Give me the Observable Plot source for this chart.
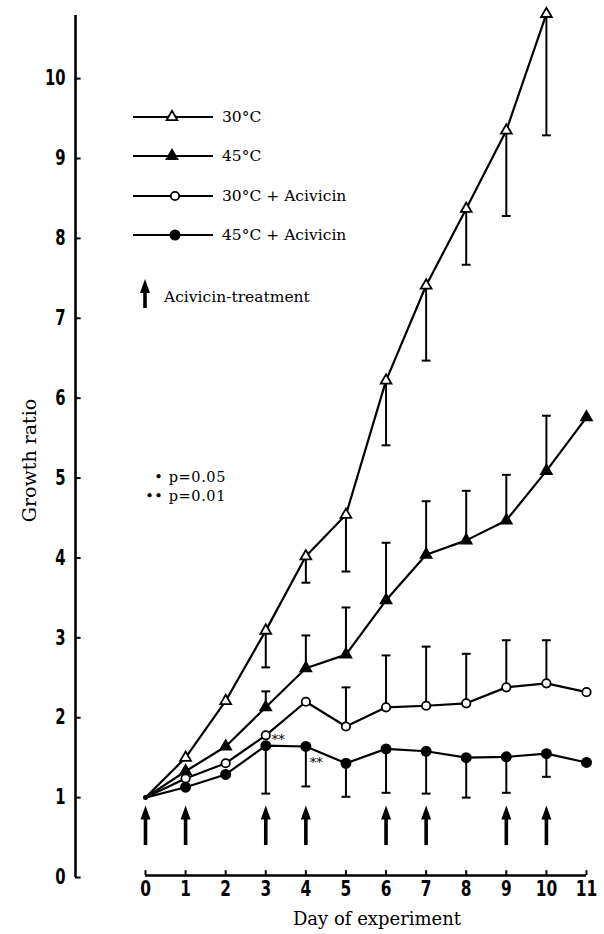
<!DOCTYPE html>
<html>
<head>
<meta charset="utf-8">
<script src="https://cdn.jsdelivr.net/npm/d3@7"></script>
<script src="https://cdn.jsdelivr.net/npm/@observablehq/plot@0.6"></script>
<style>
  body { margin: 0; background: #fff; }
  #chart { width: 604px; height: 934px; }
</style>
</head>
<body>
<div id="chart"></div>
<script>
// Days of the experiment and the y tick values
const days = [0, 1, 2, 3, 4, 5, 6, 7, 8, 9, 10, 11];
const yTicks = [0, 1, 2, 3, 4, 5, 6, 7, 8, 9, 10];
const treatmentDays = [0, 1, 3, 4, 6, 7, 9, 10];

const seriesNames = ["30°C", "45°C", "30°C + Acivicin", "45°C + Acivicin"];

// Mean growth ratio per day (null = not measured)
const growth30 = [1.0, 1.50, 2.21, 3.09, 4.02, 4.54, 6.22, 7.41, 8.37, 9.35, 10.81, null];
const growth45 = [1.0, 1.33, 1.64, 2.13, 2.62, 2.79, 3.47, 4.04, 4.22, 4.47, 5.09, 5.76];
const growth30A = [1.0, 1.24, 1.43, 1.78, 2.20, 1.89, 2.13, 2.15, 2.18, 2.38, 2.43, 2.32];
const growth45A = [1.0, 1.13, 1.29, 1.65, 1.64, 1.43, 1.61, 1.58, 1.50, 1.51, 1.55, 1.44];

// End of the one-sided error bar per day (null = no bar)
const err30 = [null, null, null, 2.63, 3.69, 3.83, 5.41, 6.47, 7.67, 8.28, 9.29, null];
const err45 = [null, null, null, 2.33, 3.03, 3.38, 4.19, 4.71, 4.84, 5.04, 5.78, null];
const err30A = [null, null, null, null, null, 2.38, 2.78, 2.89, 2.80, 2.97, 2.97, null];
const err45A = [null, null, null, 1.05, 1.14, 1.01, 1.06, 1.05, 1.00, 1.06, 1.26, null];

// Significance marks: [series index, day, label]
const significance = [[2, 3, "**"], [3, 4, "**"]];

const seriesValues = [growth30, growth45, growth30A, growth45A];
const seriesErrors = [err30, err45, err30A, err45A];
const seriesStyle = [
  {symbol: "triangle", fill: "white", r: 4},
  {symbol: "triangle", fill: "black", r: 4},
  {symbol: "circle", fill: "white", r: 4.2},
  {symbol: "circle", fill: "black", r: 4.6}
];

const rows = [];
seriesNames.forEach((name, i) => {
  days.forEach((d, j) => {
    const v = seriesValues[i][j];
    if (v != null) rows.push({series: name, idx: i, day: d, value: v, err: seriesErrors[i][j]});
  });
});
const errRows = rows.filter(r => r.err != null);
const sigRows = significance.map(([i, d, label]) => ({
  idx: i, day: d, label, value: seriesValues[i][days.indexOf(d)]
}));

const xMin = -1.746, xMax = 11.1, yMax = 10.79;
const tickFont = "'DejaVu Sans Condensed', 'DejaVu Sans', sans-serif";
const serif = "'DejaVu Serif', 'Liberation Serif', serif";

// Narrow filled arrowhead, tip pointing up
const arrowHead = {
  draw(ctx, size) {
    const r = Math.sqrt(size / Math.PI);
    ctx.moveTo(0, -1.8 * r);
    ctx.lineTo(r, 1.0 * r);
    ctx.lineTo(-r, 1.0 * r);
    ctx.closePath();
  }
};

const markerMarks = seriesStyle.map((s, i) =>
  Plot.dot(rows.filter(r => r.idx === i && r.day > 0), {
    x: "day", y: "value", symbol: s.symbol, r: s.r,
    fill: s.fill, stroke: "black", strokeWidth: 1.8
  })
);

// Asterisks sit right of the open circle, or right of the bar below the filled circle
const sigOffsets = {2: [6, 5], 3: [4, 16]};
const sigMarks = sigRows.map(r =>
  Plot.text([r], {x: "day", y: "value", text: "label",
    dx: sigOffsets[r.idx][0], dy: sigOffsets[r.idx][1],
    textAnchor: "start", fill: "black", fontSize: 13, fontFamily: serif, letterSpacing: 1.5})
);

const plot = Plot.plot({
  width: 604,
  height: 934,
  marginLeft: 75,
  marginRight: 14,
  marginTop: 15,
  marginBottom: 57,
  style: {fontFamily: serif, background: "white", color: "black"},
  x: {domain: [xMin, xMax]},
  y: {domain: [0, yMax]},
  marks: [
    // y axis: line, inward ticks, bold labels
    Plot.ruleX([xMin], {y1: 0, y2: yMax, strokeWidth: 2.6}),
    Plot.ruleY(yTicks, {y: d => d, x1: xMin, x2: xMin + 0.14, strokeWidth: 2}),
    Plot.axisY({ticks: yTicks, tickSize: 0, tickPadding: 10, fontSize: 21,
      fontWeight: "bold", fontFamily: tickFont, label: null}),
    // x axis: line from day 0 to 11, upward ticks, bold labels
    Plot.ruleY([0], {x1: 0, x2: 11, strokeWidth: 2.6, dy: -2}),
    Plot.ruleX(days, {x: d => d, y1: 0, y2: 0.06, dy: -2, strokeWidth: 2}),
    Plot.axisX({ticks: days, tickSize: 0, tickPadding: 3, fontSize: 22,
      fontWeight: "bold", fontFamily: tickFont, label: null}),
    // axis titles
    Plot.text(["Day of experiment"], {frameAnchor: "bottom", dx: 44, dy: 47,
      fontSize: 18, fontFamily: serif}),
    Plot.text(["Growth ratio"], {frameAnchor: "left", textAnchor: "middle", rotate: -90,
      dx: -46, dy: 14, fontSize: 19, fontFamily: serif}),
    // error bars with caps
    Plot.ruleX(errRows, {x: "day", y1: "value", y2: "err", strokeWidth: 2}),
    Plot.link(errRows, {x1: d => d.day - 0.11, x2: d => d.day + 0.11, y1: "err", y2: "err", strokeWidth: 2}),
    // series lines
    Plot.line(rows, {x: "day", y: "value", z: "series", stroke: "black", strokeWidth: 2.2}),
    Plot.dot(rows.filter(r => r.day === 0 && r.idx === 0), {x: "day", y: "value", r: 2.5, fill: "black"}),
    ...markerMarks,
    // significance asterisks
    ...sigMarks,
    // acivicin treatment arrows
    Plot.ruleX(treatmentDays, {x: d => d, y1: 0.40, y2: 0.76, strokeWidth: 3.6}),
    Plot.dot(treatmentDays, {x: d => d, y: 0.79, symbol: arrowHead, r: 5, fill: "black"})
  ]
});

// Legend drawn into the same SVG
const svg = d3.select(plot);
const leg = svg.append("g").attr("font-family", serif).attr("fill", "black")
  .attr("text-anchor", "start");
const legendY = [117, 156, 196, 235];
seriesNames.forEach((name, i) => {
  const y = legendY[i];
  const s = seriesStyle[i];
  leg.append("line").attr("x1", 133).attr("x2", 213).attr("y1", y).attr("y2", y)
    .attr("stroke", "black").attr("stroke-width", 2);
  const sym = s.symbol === "triangle" ? d3.symbolTriangle : d3.symbolCircle;
  leg.append("path")
    .attr("d", d3.symbol(sym, s.r * s.r * Math.PI)())
    .attr("transform", `translate(${s.symbol === "triangle" ? 172 : 175},${y})`)
    .attr("fill", s.fill).attr("stroke", "black").attr("stroke-width", 1.8);
  leg.append("text").attr("x", 222).attr("y", y).attr("dy", "0.35em")
    .attr("font-size", 15.5).text(name);
});
// treatment arrow key
leg.append("line").attr("x1", 145).attr("x2", 145).attr("y1", 308).attr("y2", 289)
  .attr("stroke", "black").attr("stroke-width", 3.6);
leg.append("path")
  .attr("d", d3.symbol(arrowHead, 25 * Math.PI)())
  .attr("transform", "translate(145,288)").attr("fill", "black");
leg.append("text").attr("x", 164).attr("y", 297).attr("dy", "0.35em")
  .attr("font-size", 15.5).text("Acivicin-treatment");
// significance key
leg.append("text").attr("x", 226).attr("y", 477).attr("dy", "0.35em")
  .attr("text-anchor", "end").attr("font-size", 14.5).attr("letter-spacing", 0.6).text("• p=0.05");
leg.append("text").attr("x", 226).attr("y", 496).attr("dy", "0.35em")
  .attr("text-anchor", "end").attr("font-size", 14.5).attr("letter-spacing", 0.6).text("•• p=0.01");

document.getElementById("chart").appendChild(plot);

// Squeeze the bold tick numerals into a narrow, condensed look
svg.selectAll('g[aria-label="y-axis tick label"] text, g[aria-label="x-axis tick label"] text')
  .each(function() {
    const len = this.getComputedTextLength();
    if (len > 0) {
      this.setAttribute("textLength", (len * 0.78).toFixed(1));
      this.setAttribute("lengthAdjust", "spacingAndGlyphs");
    }
  });
</script>
</body>
</html>
